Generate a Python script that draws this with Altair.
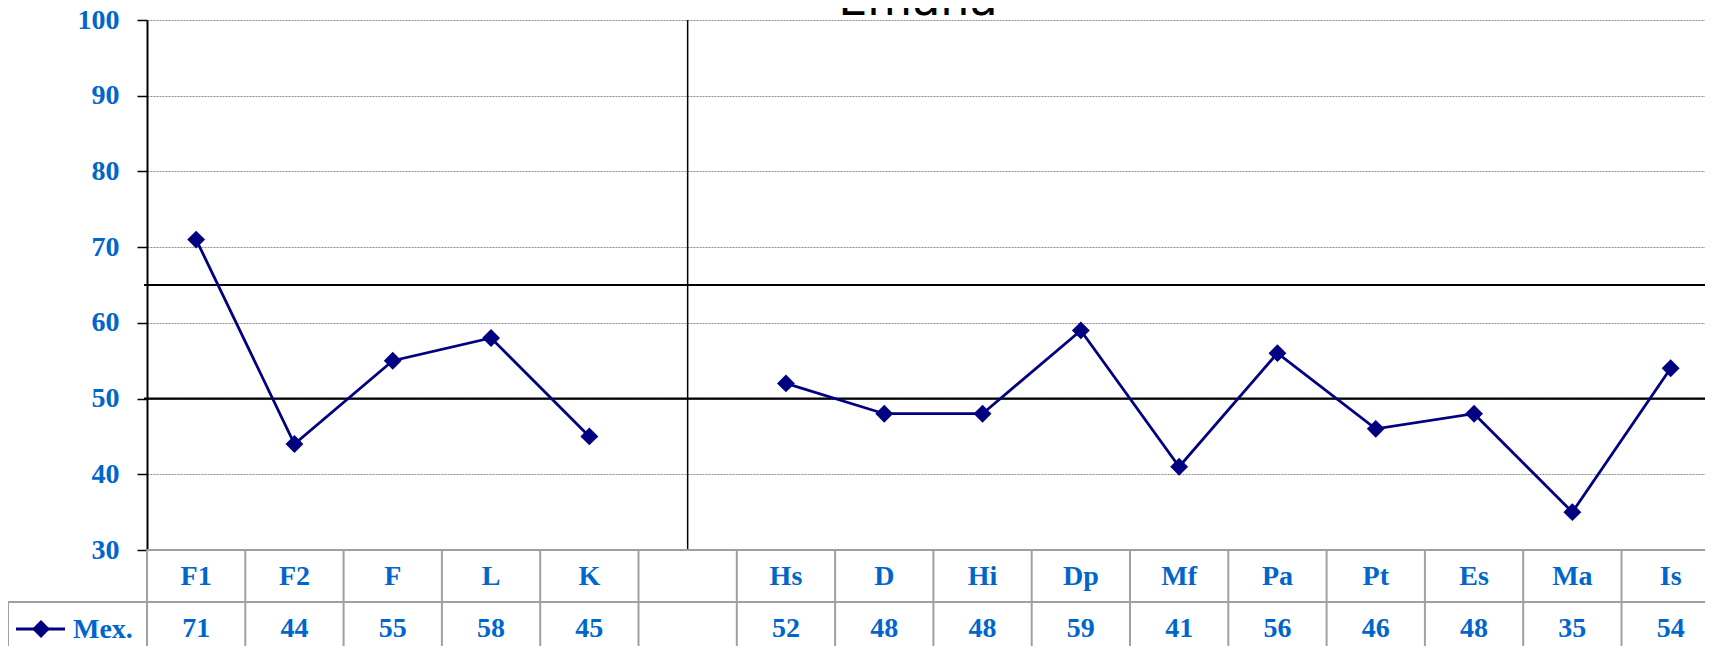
import altair as alt
import pandas as pd

# ---------------- data ----------------
categories = ["F1", "F2", "F", "L", "K", " ", "Hs", "D", "Hi", "Dp", "Mf", "Pa", "Pt", "Es", "Ma", "Is"]
values = [71, 44, 55, 58, 45, None, 52, 48, 48, 59, 41, 56, 46, 48, 35, 54]
groups = ["A", "A", "A", "A", "A", None, "B", "B", "B", "B", "B", "B", "B", "B", "B", "B"]
series_name = "Mex."
title_text = "Emana"
y_ticks = [30, 40, 50, 60, 70, 80, 90, 100]
ref_lines = [50, 65]
separator_cat = [" "]

# ---------------- layout ----------------
COL = 98.3
PW = COL * len(categories)
VIEW_W = 1558
PH = 530
BOTTOM = 650
ROW2 = 582
BLUE = "#0066CC"
NAVY = "#000080"
GRAY = "#A0A0A0"
FONT = "Liberation Serif"

df = pd.DataFrame({"cat": categories, "val": values, "grp": groups})
pts = df.dropna(subset=["val"]).copy()
pts["label"] = pts["val"].astype(int).astype(str)

xs = alt.Scale(domain=categories, range=[0, PW], paddingInner=0, paddingOuter=0)
ys = alt.Scale(domain=[30, 100], nice=False, zero=False)
X = alt.X("cat:N", scale=xs, axis=None, sort=categories)

yaxis = alt.Axis(values=y_ticks, labelFont=FONT, labelFontWeight="bold", labelFontSize=28,
                 labelColor=BLUE, labelPadding=18, tickSize=10, tickColor="black", tickWidth=1.5,
                 domainColor="black", domainWidth=2, grid=True, gridColor="#8c8c8c",
                 gridDash=[2, 1], gridWidth=1, title=None, labelFlush=False)

base = alt.Chart(df)

axis_layer = alt.Chart(pts).mark_point(opacity=0).encode(
    x=X, y=alt.Y("val:Q", scale=ys, axis=yaxis))

refs = alt.Chart(pd.DataFrame({"v": ref_lines})).mark_rule(color="black", strokeWidth=2.2).encode(
    y=alt.Y("v:Q", scale=ys), x=alt.value(-3), x2=alt.value(PW))

sep = alt.Chart(pd.DataFrame({"cat": separator_cat})).mark_rule(color="black", strokeWidth=1.5).encode(
    x=alt.X("cat:N", scale=xs, axis=None, sort=categories, bandPosition=0.5),
    y=alt.value(0), y2=alt.value(PH))

line = alt.Chart(pts).mark_line(color=NAVY, strokeWidth=2.8).encode(
    x=X, y=alt.Y("val:Q", scale=ys), detail="grp:N")

points = alt.Chart(pts).mark_point(shape="diamond", filled=True, size=320, color=NAVY, opacity=1).encode(
    x=X, y=alt.Y("val:Q", scale=ys))

# table
hline1 = alt.Chart(pd.DataFrame({"a": [0]})).mark_rule(color=GRAY, strokeWidth=2).encode(
    x=alt.value(0), x2=alt.value(PW), y=alt.value(PH))
hline2 = alt.Chart(pd.DataFrame({"a": [0]})).mark_rule(color=GRAY, strokeWidth=2).encode(
    x=alt.value(-139), x2=alt.value(PW), y=alt.value(ROW2))
vlines = base.mark_rule(color=GRAY, strokeWidth=2).encode(
    x=alt.X("cat:N", scale=xs, axis=None, sort=categories, bandPosition=0),
    y=alt.value(PH), y2=alt.value(BOTTOM))
vleft = alt.Chart(pd.DataFrame({"a": [0]})).mark_rule(color=GRAY, strokeWidth=2).encode(
    x=alt.value(-139), y=alt.value(ROW2), y2=alt.value(BOTTOM))

cat_text = base.mark_text(font=FONT, fontWeight="bold", fontSize=28, color=BLUE,
                          baseline="alphabetic", align="center").encode(
    x=X, y=alt.value(565), text="cat:N")
val_text = alt.Chart(pts).mark_text(font=FONT, fontWeight="bold", fontSize=28, color=BLUE,
                                    baseline="alphabetic", align="center").encode(
    x=X, y=alt.value(617), text="label:N")

leg_line = alt.Chart(pd.DataFrame({"a": [0]})).mark_rule(color=NAVY, strokeWidth=2.8).encode(
    x=alt.value(-131), x2=alt.value(-82), y=alt.value(609))
leg_pt = alt.Chart(pd.DataFrame({"a": [0]})).mark_point(shape="diamond", filled=True, size=320,
                                                       color=NAVY, opacity=1).encode(
    x=alt.value(-106), y=alt.value(609))
leg_text = alt.Chart(pd.DataFrame({"t": [series_name]})).mark_text(
    font=FONT, fontWeight="bold", fontSize=28, color=BLUE, baseline="alphabetic", align="left").encode(
    x=alt.value(-74), y=alt.value(618), text="t:N")

title = alt.Chart(pd.DataFrame({"t": [title_text]})).mark_text(
    font="DejaVu Sans", fontSize=46, color="black", baseline="alphabetic", align="center").encode(
    x=alt.value(771), y=alt.value(-5), text="t:N")

chart = alt.layer(
    axis_layer, refs, sep, hline1, hline2, vlines, vleft, line, points,
    cat_text, val_text, leg_line, leg_pt, leg_text, title
).properties(
    width=VIEW_W, height=PH,
    autosize=alt.AutoSizeParams(type="none"),
    padding={"left": 139, "top": 12, "right": 0, "bottom": 110},
).configure_view(stroke=None)

chart.save("out.html", embed_options={"renderer": "svg", "actions": False})
